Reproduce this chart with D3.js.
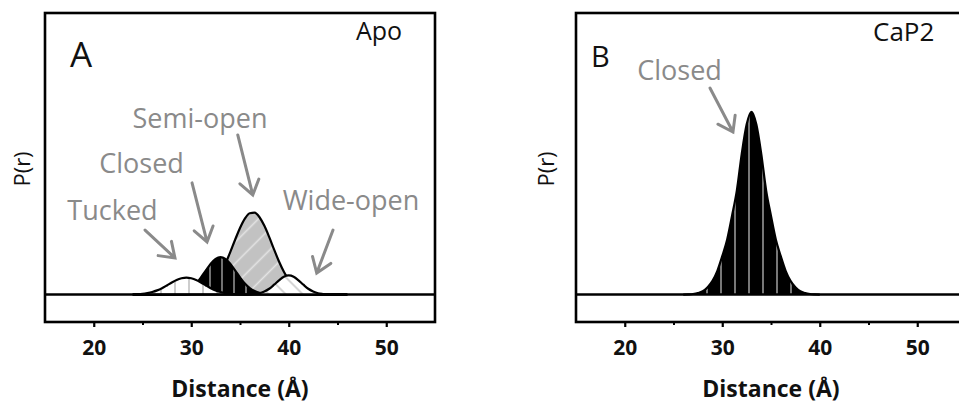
<!DOCTYPE html>
<html>
<head>
<meta charset="utf-8">
<script src="https://cdn.jsdelivr.net/npm/d3@7"></script>
<style>
  body { margin: 0; background: #fff; }
  svg { display: block; font-family: "Open Sans", sans-serif; }
</style>
</head>
<body>
<svg id="chart" width="959" height="407"></svg>
<script>
// ---- Data -------------------------------------------------------------
// Distance grid (Å) for the Apo conformer components
const distancesApo = [
  24.0, 24.5, 25.0, 25.5, 26.0, 26.5, 27.0, 27.5, 28.0, 28.5, 29.0, 29.5,
  30.0, 30.5, 31.0, 31.5, 32.0, 32.5, 33.0, 33.5, 34.0, 34.5, 35.0, 35.5,
  36.0, 36.5, 37.0, 37.5, 38.0, 38.5, 39.0, 39.5, 40.0, 40.5, 41.0, 41.5,
  42.0, 42.5, 43.0, 43.5, 44.0, 44.5, 45.0, 45.5, 46.0
];
// P(r) of each conformer population (Apo)
const tuckedApo = [
  .001, .002, .004, .008, .014, .023, .035, .050, .066, .080, .089, .093,
  .089, .080, .066, .050, .035, .023, .014, .008, .004, .002, .001, 0,
  0, 0, 0, 0, 0, 0, 0, 0, 0, 0, 0, 0,
  0, 0, 0, 0, 0, 0, 0, 0, 0
];
const closedApo = [
  0, 0, 0, 0, 0, 0, 0, .001, .002, .004, .009, .019,
  .035, .060, .094, .132, .169, .195, .205, .195, .169, .132, .094, .060,
  .035, .019, .009, .004, .002, .001, 0, 0, 0, 0, 0, 0,
  0, 0, 0, 0, 0, 0, 0, 0, 0
];
const semiOpenApo = [
  0, 0, 0, 0, 0, 0, 0, 0, 0, 0, 0, 0,
  .003, .007, .013, .025, .045, .074, .115, .169, .232, .300, .364, .415,
  .445, .448, .423, .376, .314, .246, .181, .125, .081, .050, .028, .015,
  .008, .004, .002, .001, 0, 0, 0, 0, 0
];
const wideOpenApo = [
  0, 0, 0, 0, 0, 0, 0, 0, 0, 0, 0, 0,
  0, 0, 0, 0, 0, 0, 0, 0, 0, 0, 0, 0,
  .001, .003, .007, .017, .032, .054, .078, .098, .105, .098, .078, .054,
  .032, .017, .007, .003, .001, 0, 0, 0, 0
];

// Distance grid (Å) and P(r) for CaP2
const distancesCaP2 = [
  26.0, 26.5, 27.0, 27.5, 28.0, 28.5, 29.0, 29.5, 30.0, 30.5, 31.0, 31.5,
  32.0, 32.5, 33.0, 33.5, 34.0, 34.5, 35.0, 35.5, 36.0, 36.5, 37.0, 37.5,
  38.0, 38.5, 39.0, 39.5, 40.0
];
const closedCaP2 = [
  0, .001, .003, .008, .018, .04, .075, .13, .21, .30, .43, .57,
  .77, .93, 1.00, .93, .77, .57, .43, .30, .21, .13, .075, .04,
  .018, .008, .003, .001, 0
];

const majorTicks = [20, 30, 40, 50];
const minorTicks = [25, 35, 45];
const xDomain = [15, 55];
const yDomain = [-0.15, 1.54];

// ---- Styling ----------------------------------------------------------
const GREY_TEXT = "#8a8a8a";
const svg = d3.select("#chart");
const defs = svg.append("defs");

function hatch(id, bg, line, spacing, angle, width) {
  const p = defs.append("pattern")
    .attr("id", id)
    .attr("patternUnits", "userSpaceOnUse")
    .attr("width", spacing).attr("height", spacing)
    .attr("patternTransform", angle ? `rotate(${angle})` : null);
  p.append("rect").attr("width", spacing).attr("height", spacing).attr("fill", bg);
  p.append("line")
    .attr("x1", spacing / 2).attr("x2", spacing / 2)
    .attr("y1", 0).attr("y2", spacing)
    .attr("stroke", line).attr("stroke-width", width);
}
hatch("tuckedFill", "#ffffff", "#b8b8b8", 14, 0, 1.4);
hatch("closedFillA", "#000000", "#8e8e8e", 12, 0, 1.6);
hatch("closedFillB", "#000000", "#858585", 14, 0, 1.8);
hatch("semiFill", "#c2c2c2", "#e4e4e4", 15, 45, 1.6);
hatch("wideFill", "#ffffff", "#c4c4c4", 12, -45, 1.4);

// ---- Panel drawing ----------------------------------------------------
function drawPanel(cfg) {
  const x = d3.scaleLinear().domain(xDomain).range([cfg.left, cfg.left + 390]);
  const y = d3.scaleLinear().domain(yDomain).range([322, 13]);
  const g = svg.append("g");

  // distributions, drawn back to front
  cfg.series.forEach(s => {
    const pts = s.values.map((v, i) => [s.r[i], v]);
    const area = d3.area().curve(d3.curveMonotoneX)
      .x(d => x(d[0])).y0(y(0)).y1(d => y(d[1]));
    const line = d3.line().curve(d3.curveMonotoneX)
      .x(d => x(d[0])).y(d => y(d[1]));
    g.append("path").attr("d", area(pts)).attr("fill", `url(#${s.fill})`);
    g.append("path").attr("d", line(pts))
      .attr("fill", "none").attr("stroke", "#000").attr("stroke-width", 2.2)
      .attr("stroke-linejoin", "round");
  });

  // zero baseline
  g.append("line")
    .attr("x1", x(xDomain[0])).attr("x2", x(xDomain[1]))
    .attr("y1", y(0)).attr("y2", y(0))
    .attr("stroke", "#000").attr("stroke-width", 2.4);

  // frame
  g.append("rect")
    .attr("x", x(xDomain[0])).attr("y", y(yDomain[1]))
    .attr("width", x(xDomain[1]) - x(xDomain[0]))
    .attr("height", y(yDomain[0]) - y(yDomain[1]))
    .attr("fill", "none").attr("stroke", "#000").attr("stroke-width", 2.6);

  // x axis
  const ax = g.append("g").attr("transform", `translate(0,${y(yDomain[0])})`)
    .call(d3.axisBottom(x).tickValues(majorTicks).tickSize(5).tickFormat(d3.format("d")));
  ax.select(".domain").remove();
  ax.selectAll(".tick line").attr("stroke", "#000").attr("stroke-width", 2.2);
  ax.selectAll(".tick text")
    .attr("y", 33).attr("dy", null)
    .attr("font-family", "Open Sans").attr("font-weight", 700)
    .attr("font-size", 21).attr("fill", "#111");
  const axm = g.append("g").attr("transform", `translate(0,${y(yDomain[0])})`)
    .call(d3.axisBottom(x).tickValues(minorTicks).tickSize(3).tickFormat(""));
  axm.select(".domain").remove();
  axm.selectAll(".tick line").attr("stroke", "#000").attr("stroke-width", 2);

  g.append("text")
    .attr("x", (x(xDomain[0]) + x(xDomain[1])) / 2).attr("y", 397)
    .attr("text-anchor", "middle")
    .attr("font-weight", 700).attr("font-size", 23).attr("fill", "#111")
    .text("Distance (Å)");

  g.append("text")
    .attr("transform", `translate(${cfg.yLabelX},169) rotate(-90)`)
    .attr("text-anchor", "middle")
    .attr("font-size", 22).attr("fill", "#111")
    .text("P(r)");

  // panel letter and state name
  g.append("text").attr("x", cfg.letterPos[0]).attr("y", cfg.letterPos[1])
    .attr("font-size", cfg.letterSize).attr("fill", "#111").text(cfg.letter);
  g.append("text").attr("x", cfg.namePos[0]).attr("y", cfg.namePos[1])
    .attr("font-size", cfg.nameSize).attr("fill", "#111").text(cfg.name);

  // annotations
  cfg.notes.forEach(n => {
    g.append("text")
      .attr("x", x(n.at[0])).attr("y", y(n.at[1]))
      .attr("text-anchor", "middle")
      .attr("font-size", 27).attr("fill", GREY_TEXT)
      .text(n.text);
    const x0 = x(n.from[0]), y0 = y(n.from[1]);
    const x1 = x(n.to[0]), y1 = y(n.to[1]);
    const ang = Math.atan2(y1 - y0, x1 - x0);
    const len = 17, spread = 35 * Math.PI / 180;
    const a1 = [x1 - len * Math.cos(ang - spread), y1 - len * Math.sin(ang - spread)];
    const a2 = [x1 - len * Math.cos(ang + spread), y1 - len * Math.sin(ang + spread)];
    g.append("path")
      .attr("d", `M${x0},${y0}L${x1},${y1}M${a1[0]},${a1[1]}L${x1},${y1}L${a2[0]},${a2[1]}`)
      .attr("fill", "none").attr("stroke", GREY_TEXT).attr("stroke-width", 3)
      .attr("stroke-linecap", "round").attr("stroke-linejoin", "miter");
  });
}

drawPanel({
  left: 45,
  yLabelX: 30,
  letter: "A", letterPos: [70, 67], letterSize: 35,
  name: "Apo", namePos: [356, 40], nameSize: 25,
  series: [
    { r: distancesApo, values: semiOpenApo, fill: "semiFill" },
    { r: distancesApo, values: closedApo, fill: "closedFillA" },
    { r: distancesApo, values: tuckedApo, fill: "tuckedFill" },
    { r: distancesApo, values: wideOpenApo, fill: "wideFill" }
  ],
  notes: [
    { text: "Semi-open", at: [30.9, 0.911], from: [34.77, 0.873], to: [36.31, 0.545] },
    { text: "Closed", at: [24.9, 0.665], from: [30.08, 0.611], to: [31.62, 0.288] },
    { text: "Tucked", at: [21.92, 0.408], from: [25.26, 0.353], to: [28.33, 0.200] },
    { text: "Wide-open", at: [46.38, 0.463], from: [44.54, 0.353], to: [42.87, 0.118] }
  ]
});

drawPanel({
  left: 576,
  yLabelX: 554,
  letter: "B", letterPos: [591, 67], letterSize: 29,
  name: "CaP2", namePos: [873, 41], nameSize: 26,
  series: [
    { r: distancesCaP2, values: closedCaP2, fill: "closedFillB" }
  ],
  notes: [
    { text: "Closed", at: [25.62, 1.174], from: [28.74, 1.130], to: [31.10, 0.889] }
  ]
});
</script>
</body>
</html>
